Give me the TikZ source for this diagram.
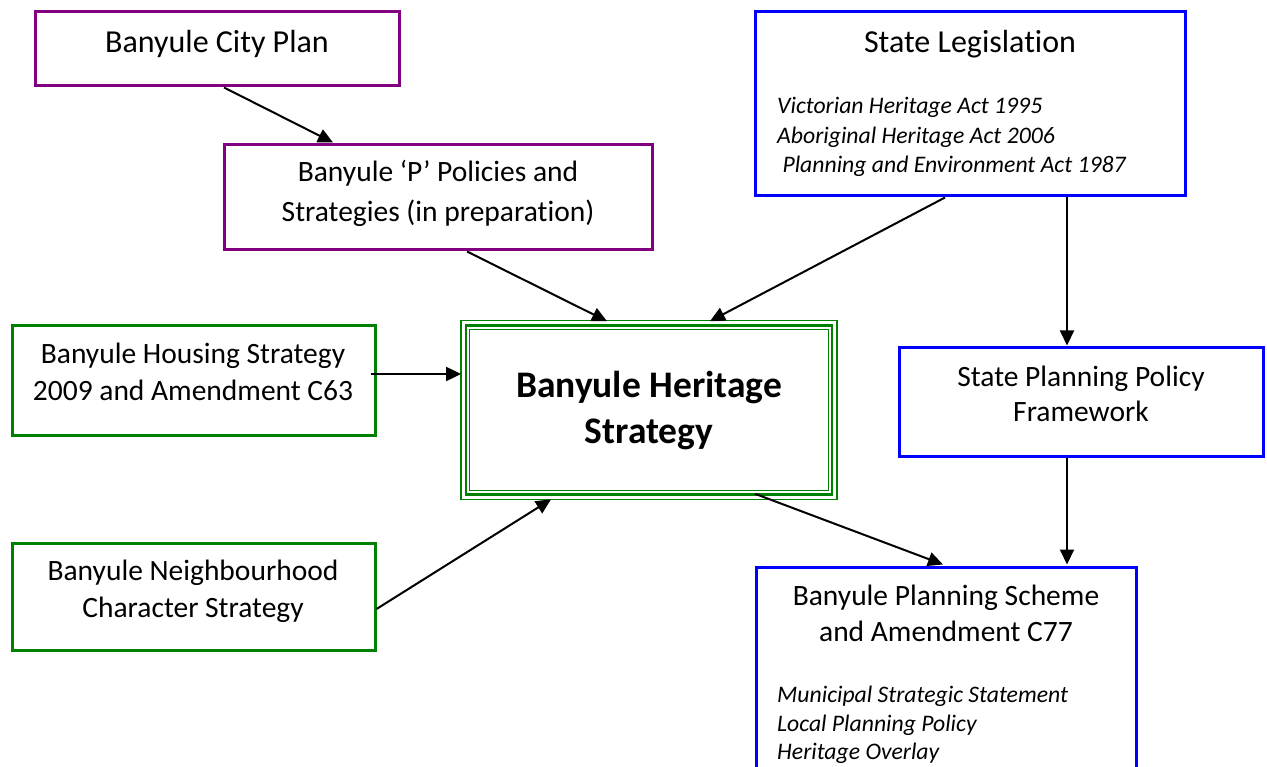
\documentclass[tikz,border=0pt]{standalone}
\usepackage{fontspec}
\setmainfont{Carlito}[Ligatures={NoCommon,NoRequired,NoContextual}]
\usetikzlibrary{arrows.meta}
\definecolor{cpurple}{RGB}{128,0,128}
\definecolor{cblue}{RGB}{0,0,255}
\definecolor{cgreen}{RGB}{0,128,0}
\begin{document}
\begin{tikzpicture}[x=1pt,y=-1pt,
  pbox/.style={draw=cpurple, line width=3pt, inner sep=0pt, fill=white},
  bbox/.style={draw=cblue, line width=3pt, inner sep=0pt, fill=white},
  gbox/.style={draw=cgreen, line width=3pt, inner sep=0pt, fill=white},
  txt/.style={inner sep=0pt, anchor=base, font=\fontsize{29.5}{36}\selectfont},
  ttxt/.style={inner sep=0pt, anchor=base, font=\fontsize{32}{38}\selectfont},
  btxt/.style={inner sep=0pt, anchor=base, font=\fontsize{37.5}{44}\selectfont\bfseries},
  itxt/.style={inner sep=0pt, anchor=base west, font=\fontsize{23.7}{29}\selectfont\itshape},
  arr/.style={line width=2pt, -{Triangle[length=15pt,width=14pt]}}]
\useasboundingbox (0,0) rectangle (1267,767);
\fill[white] (0,0) rectangle (1267,767);
\begin{scope}
\clip (0,0) rectangle (1267,767);
% boxes
\node[pbox, minimum width=364pt, minimum height=74pt] (city) at (217,49) {};
\node[pbox, minimum width=428pt, minimum height=105pt] (pp) at (438,197.5) {};
\node[bbox, minimum width=430pt, minimum height=184pt] (sl) at (970,104) {};
\node[gbox, minimum width=363pt, minimum height=109pt] (hs) at (193.5,380.5) {};
\node[gbox, minimum width=363pt, minimum height=107pt] (nb) at (193.5,596.5) {};
\node[bbox, minimum width=364pt, minimum height=108pt] (sppf) at (1081,402) {};
\node[bbox, minimum width=380pt, minimum height=233pt] (ps) at (946,683.5) {};
% central triple border
\node[draw=cgreen, line width=2.6pt, fill=white, inner sep=0pt, minimum width=366pt, minimum height=169pt] (her) at (649,410) {};
\draw[cgreen, line width=1.3pt] ([xshift=-3.6pt,yshift=3.6pt]her.north west) rectangle ([xshift=3.6pt,yshift=-3.6pt]her.south east);
\draw[cgreen, line width=1.3pt] ([xshift=5pt,yshift=-5pt]her.north west) rectangle ([xshift=-5pt,yshift=5pt]her.south east);
% texts
\node[ttxt] (t1) at (217,53) {Banyule City Plan};
\node[txt] (t2a) at (438,182) {Banyule ‘P’ Policies and};
\node[txt] (t2b) at (438,222) {Strategies (in preparation)};
\node[ttxt] (t3) at (970,53) {State Legislation};
\node[itxt] (t3a) at (777,114) {Victorian Heritage Act 1995};
\node[itxt] (t3b) at (777,144) {Aboriginal Heritage Act 2006};
\node[itxt] (t3c) at (777,173) {\ Planning and Environment Act 1987};
\node[txt] (t4a) at (193,364) {Banyule Housing Strategy};
\node[txt] (t4b) at (193,400) {2009 and Amendment C63};
\node[btxt] (t5a) at (649,398) {Banyule Heritage};
\node[btxt] (t5b) at (649,443) {Strategy};
\node[txt] (t6a) at (1081,387) {State Planning Policy};
\node[txt] (t6b) at (1081,421) {Framework};
\node[txt] (t7a) at (193,580) {Banyule Neighbourhood};
\node[txt] (t7b) at (193,617) {Character Strategy};
\node[txt] (t8a) at (946,605) {Banyule Planning Scheme};
\node[txt] (t8b) at (946,641) {and Amendment C77};
\node[itxt] (t8c) at (777,702) {Municipal Strategic Statement};
\node[itxt] (t8d) at (777,731) {Local Planning Policy};
\node[itxt] (t8e) at (777,759) {Heritage Overlay};
% arrows
\draw[arr] ([xshift=7pt]city.south) -- ([xshift=-105pt,yshift=1pt]pp.north);
\draw[arr] ([xshift=29pt]pp.south) -- ([xshift=-42pt,yshift=3pt]her.north);
\draw[arr] ([xshift=-25pt]sl.south) -- ([xshift=61pt,yshift=3pt]her.north);
\draw[arr] ([xshift=97pt]sl.south) -- ([xshift=-14pt,yshift=1pt]sppf.north);
\draw[arr] ([xshift=-6pt,yshift=6.5pt]hs.east) -- ([xshift=-3.6pt,yshift=36pt]her.west);
\draw[arr] ([yshift=-12.5pt]nb.east) -- ([xshift=-98pt,yshift=-3.6pt]her.south);
\draw[arr] ([xshift=106pt,yshift=2pt]her.south) -- ([xshift=-3pt,yshift=1pt]ps.north);
\draw[arr] ([xshift=-14pt]sppf.south) -- ([xshift=121pt,yshift=1pt]ps.north);
\end{scope}
\end{tikzpicture}
\end{document}
